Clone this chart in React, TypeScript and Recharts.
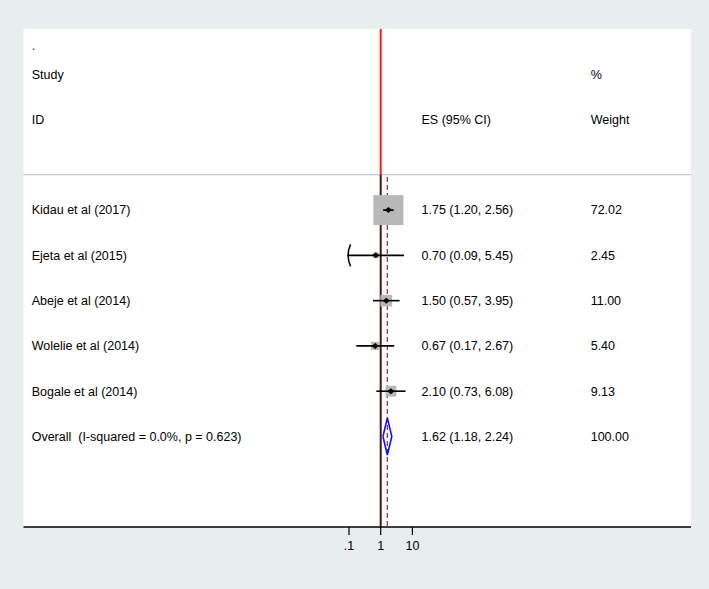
import { ReferenceLine, Scatter, ScatterChart, XAxis, YAxis, CartesianGrid } from "recharts";

// study rows
const studies = ["Kidau et al (2017)", "Ejeta et al (2015)", "Abeje et al (2014)", "Wolelie et al (2014)", "Bogale et al (2014)"];
const effect = [1.75, 0.7, 1.5, 0.67, 2.1];
const ciLow = [1.2, 0.09, 0.57, 0.17, 0.73];
const ciHigh = [2.56, 5.45, 3.95, 2.67, 6.08];
const weights = [72.02, 2.45, 11.0, 5.4, 9.13];

// pooled estimate
const overallLabel = "Overall  (I-squared = 0.0%, p = 0.623)";
const overallEffect = 1.62;
const overallCi = [1.18, 2.24];
const overallWeight = 100.0;

// axis
const tickValues = [0.1, 1, 10];
const tickLabels = [".1", "1", "10"];

// header rows: [study col, ES col, weight col]
const headerRows = [
    [".", "", ""],
    ["Study", "", "%"],
    ["ID", "ES (95% CI)", "Weight"]
];
const headerRowPos = [-3.64, -3, -2];

const FONT = "'Liberation Sans', Arial, Helvetica, sans-serif";
const COL_STUDY = 31.7;
const COL_ES = 421.5;
const COL_WEIGHT = 590.7;
const HEADER_LINE = -0.78;
const MAX_BOX = 30;

const lg = (v: number) => Math.log10(v);
const fmt = (v: number) => v.toFixed(2);
const maxWeight = Math.max(...weights);

const rows = studies.map((name, i) => ({
    x: lg(effect[i]),
    y: i,
    name,
    es: `${fmt(effect[i])} (${fmt(ciLow[i])}, ${fmt(ciHigh[i])})`,
    weight: fmt(weights[i]),
    box: MAX_BOX * Math.sqrt(weights[i] / maxWeight)
}));

const overallRow = {
    x: lg(overallEffect),
    y: studies.length,
    name: overallLabel,
    es: `${fmt(overallEffect)} (${fmt(overallCi[0])}, ${fmt(overallCi[1])})`,
    weight: fmt(overallWeight)
};

const headerData = headerRows.map((cells, i) => ({ x: 0, y: headerRowPos[i], cells }));

// CI ends that run past the lowest labelled tick get a curved cap
const cappedLows = studies
    .map((_, i) => ({ x: lg(ciLow[i]), y: i, low: ciLow[i] }))
    .filter((d) => d.low < tickValues[0]);

const DIAMOND_HALF = 0.41;
const diamond = [
    { x: lg(overallCi[0]), y: studies.length },
    { x: lg(overallEffect), y: studies.length - DIAMOND_HALF },
    { x: lg(overallCi[1]), y: studies.length },
    { x: lg(overallEffect), y: studies.length + DIAMOND_HALF },
    { x: lg(overallCi[0]), y: studies.length }
];

const empty = () => <g />;

function RowText(props: any) {
    const { cy, payload } = props;
    return (
        <g fontFamily={FONT} fontSize={12.5} fill="#000">
            <text x={COL_STUDY} y={cy} dy="0.35em" style={{ whiteSpace: "pre" }}>{payload.name}</text>
            <text x={COL_ES} y={cy} dy="0.35em">{payload.es}</text>
            <text x={COL_WEIGHT} y={cy} dy="0.35em">{payload.weight}</text>
        </g>
    );
}

function PointMark(props: any) {
    const { cx, cy } = props;
    return (
        <g>
            <path d={`M${cx - 3.5},${cy} L${cx},${cy - 3} L${cx + 3.5},${cy} L${cx},${cy + 3} Z`} fill="#000" />
            <RowText {...props} />
        </g>
    );
}

function BoxMark(props: any) {
    const { cx, cy, payload } = props;
    const s = payload.box;
    return <rect x={cx - s / 2} y={cy - s / 2} width={s} height={s} fill="#b8b8b8" />;
}

function CapMark(props: any) {
    const { cx, cy } = props;
    return <path d={`M${cx + 3},${cy - 11} Q${cx - 2},${cy} ${cx + 3},${cy + 11}`} fill="none" stroke="#000" strokeWidth={1.5} />;
}

function HeaderMark(props: any) {
    const { cy, payload } = props;
    const [a, b, c] = payload.cells;
    return (
        <g fontFamily={FONT} fontSize={12.5} fill="#000">
            <text x={COL_STUDY} y={cy} dy="0.35em">{a}</text>
            <text x={COL_ES} y={cy} dy="0.35em">{b}</text>
            <text x={COL_WEIGHT} y={cy} dy="0.35em">{c}</text>
        </g>
    );
}

export default function App() {
    return (
        <div style={{ position: "absolute", left: 0, top: 0, width: 709, height: 589, background: "#e8eded" }}>
            <ScatterChart width={709} height={589} margin={{ top: 29, right: 18, bottom: 32, left: 23.5 }}>
                <CartesianGrid fill="#ffffff" stroke="none" horizontal={false} vertical={false} />
                <XAxis
                    type="number"
                    dataKey="x"
                    domain={[-11.27, 9.79]}
                    allowDataOverflow
                    ticks={tickValues.map(lg)}
                    tickFormatter={(v: number) => tickLabels[tickValues.findIndex((t) => Math.abs(lg(t) - v) < 1e-9)]}
                    axisLine={{ stroke: "#000", strokeWidth: 1.5 }}
                    tickLine={{ stroke: "#000", strokeWidth: 1.2 }}
                    tickSize={8}
                    tickMargin={6}
                    tick={{ fill: "#000", fontSize: 12.5, fontFamily: FONT }}
                    height={30}
                />
                <YAxis type="number" dataKey="y" domain={[-4, 7]} reversed hide allowDataOverflow />
                <ReferenceLine y={HEADER_LINE} stroke="#b2b6e4" strokeWidth={1} />
                <ReferenceLine segment={[{ x: 0, y: -4 }, { x: 0, y: HEADER_LINE }]} stroke="#ff1a1a" strokeWidth={2} />
                <ReferenceLine segment={[{ x: 0, y: HEADER_LINE }, { x: 0, y: 7 }]} stroke="#4a1414" strokeWidth={2} />
                <ReferenceLine
                    segment={[{ x: lg(overallEffect), y: HEADER_LINE + 0.05 }, { x: lg(overallEffect), y: 7 }]}
                    stroke="#a0343c"
                    strokeWidth={1.3}
                    strokeDasharray="5 3"
                />
                <Scatter data={headerData} shape={HeaderMark} isAnimationActive={false} />
                <Scatter data={rows} shape={BoxMark} isAnimationActive={false} />
                {studies.map((s, i) => (
                    <Scatter
                        key={s}
                        data={[
                            { x: lg(ciLow[i]), y: i },
                            { x: lg(ciHigh[i]), y: i }
                        ]}
                        line={{ stroke: "#000", strokeWidth: 1.6 }}
                        shape={empty}
                        isAnimationActive={false}
                    />
                ))}
                <Scatter data={cappedLows} shape={CapMark} isAnimationActive={false} />
                <Scatter data={rows} shape={PointMark} isAnimationActive={false} />
                <Scatter data={diamond} line={{ stroke: "#1010ff", strokeWidth: 1.6 }} shape={empty} isAnimationActive={false} />
                <Scatter data={[overallRow]} shape={RowText} isAnimationActive={false} />
            </ScatterChart>
        </div>
    );
}
